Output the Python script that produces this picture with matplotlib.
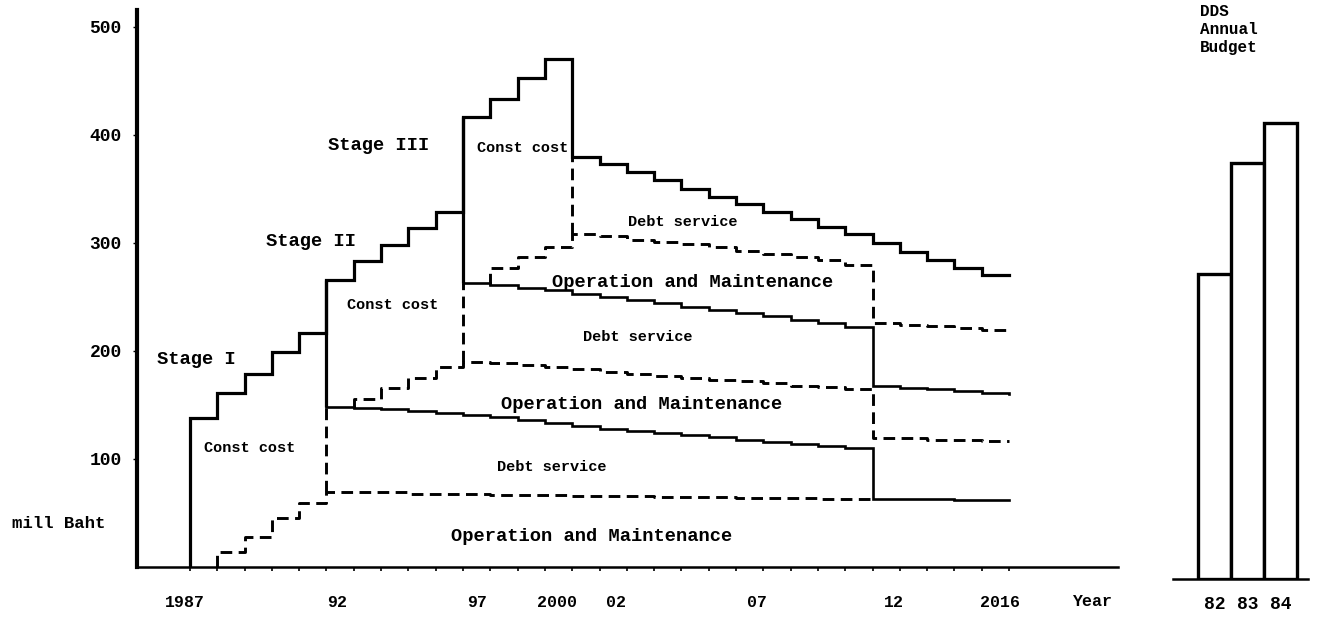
import matplotlib.pyplot as plt

plt.rcParams['font.family'] = ['Liberation Mono', 'DejaVu Sans Mono']
plt.rcParams['font.weight'] = 'bold'

# ---- top outline: construction steps, then stage III debt service ----
stage1_years = [1987, 1988, 1989, 1990, 1991]
stage1_top = [138, 161, 179, 199, 217]
stage2_years = [1992, 1993, 1994, 1995, 1996]
stage2_top = [266, 283, 298, 314, 329]
stage3_years = [1997, 1998, 1999, 2000]
stage3_top = [417, 433, 453, 470]
decline_years = list(range(2001, 2017))
decline_top = [380, 373, 366, 358, 350, 343, 336, 329, 322, 315, 308, 300, 292, 284, 277, 270]
end_year = 2017

# ---- layers below (values at each year, last entry = level at 2012) ----
om1_years = list(range(1988, 2013))
om1 = [14, 28, 45, 59, 69, 69, 69, 68, 68, 68, 67, 67, 67, 66, 66, 66, 65, 65, 65,
       64, 64, 64, 63, 63, 63]
debt1_years = list(range(1992, 2013))
debt1 = [148, 147, 146, 144, 143, 141, 139, 136, 133, 131, 128, 126, 124, 122, 120,
         118, 116, 114, 112, 110, 108]
om2_years = list(range(1993, 2013))
om2 = [156, 166, 175, 185, 190, 189, 187, 185, 183, 181, 179, 177, 175, 173, 172,
       170, 168, 167, 165, 164]
debt2_years = list(range(1997, 2013))
debt2 = [263, 261, 258, 256, 253, 250, 247, 244, 241, 238, 235, 232, 229, 226, 222, 219]
om3_years = list(range(1998, 2013))
om3 = [277, 287, 296, 308, 306, 303, 301, 299, 296, 293, 290, 287, 284, 280, 277]

# after stage I debt is repaid (2012-2017)
after_years = list(range(2012, 2018))
debt1_after = [63, 63, 63, 62, 62, 62]
om2_after = [119, 119, 118, 118, 117, 117]
debt2_after = [168, 166, 165, 163, 161, 160]
om3_after = [226, 224, 223, 221, 219, 218]

# ---- DDS annual budget ----
budget_years = ['82', '83', '84']
budget = [282, 385, 422]

year_labels = ['1987', '92', '97', '2000', '02', '07', '12', '2016']
year_label_pos = [1986.8, 1992.4, 1997.5, 2000.45, 2002.6, 2007.75, 2012.8, 2016.65]

fig = plt.figure(figsize=(13.17, 6.28), dpi=100)
ax = fig.add_axes([137 / 1317, 61 / 628, 981 / 1317, 557 / 628])
ax.set_xlim(1985.06, 2020.99)
ax.set_ylim(0, 515.7)

solid = dict(color='black', lw=2.3, drawstyle='steps-post', solid_joinstyle='miter')
thin = dict(color='black', lw=1.9, drawstyle='steps-post', solid_joinstyle='miter')
dashed = dict(color='black', lw=2.1, drawstyle='steps-post', dashes=(4, 2.2))

# top outline
top_x = [stage1_years[0]] + stage1_years + stage2_years + stage3_years + decline_years + [end_year]
top_y = [0] + stage1_top + stage2_top + stage3_top + decline_top + [decline_top[-1]]
ax.plot(top_x, top_y, **solid)

d1 = dict(zip(debt1_years, debt1))
d2 = dict(zip(debt2_years, debt2))
o1 = dict(zip(om1_years, om1))
o2 = dict(zip(om2_years, om2))
o3 = dict(zip(om3_years, om3))

# O&M stage I
ax.plot([om1_years[0]] + om1_years, [0] + om1, **dashed)
# debt service stage I (continues as the bottom line after 2012)
ax.plot(debt1_years + after_years, debt1 + debt1_after, **thin)
# O&M stage II
ax.plot([om2_years[0]] + om2_years + after_years,
        [d1[om2_years[0]]] + om2 + om2_after, **dashed)
# debt service stage II
ax.plot(debt2_years + after_years, debt2 + debt2_after, **thin)
# O&M stage III
ax.plot([om3_years[0]] + om3_years + after_years,
        [d2[om3_years[0]]] + om3 + om3_after, **dashed)

# stage boundaries
vdash = (0, (4, 2.2))
ax.vlines(1992, o1[1992], d1[1992], colors='black', lw=2.1, linestyles=[vdash])
ax.vlines(1992, d1[1992], stage2_top[0], colors='black', lw=2.3)
ax.vlines(1997, o2[1997], d2[1997], colors='black', lw=2.1, linestyles=[vdash])
ax.vlines(1997, d2[1997], stage3_top[0], colors='black', lw=2.3)
ax.vlines(2001, o3[2001], decline_top[0], colors='black', lw=2.1, linestyles=[vdash])

# labels inside the chart
ax.text(1985.8, 192, 'Stage I', fontsize=13.5, va='center')
ax.text(1989.8, 301, 'Stage II', fontsize=13.5, va='center')
ax.text(1992.05, 390, 'Stage III', fontsize=13.5, va='center')
ax.text(1987.5, 110, 'Const cost', fontsize=11, va='center')
ax.text(1992.75, 243, 'Const cost', fontsize=11, va='center')
ax.text(1997.5, 388, 'Const cost', fontsize=11, va='center')
ax.text(2003.05, 319, 'Debt service', fontsize=11, va='center')
ax.text(2000.25, 263, 'Operation and Maintenance', fontsize=13.5, va='center')
ax.text(2001.4, 213, 'Debt service', fontsize=11, va='center')
ax.text(1998.4, 150, 'Operation and Maintenance', fontsize=13.5, va='center')
ax.text(1998.25, 93, 'Debt service', fontsize=11, va='center')
ax.text(1996.55, 28, 'Operation and Maintenance', fontsize=13.5, va='center')

# axes styling
for s in ['top', 'right']:
    ax.spines[s].set_visible(False)
ax.spines['left'].set_linewidth(3.0)
ax.spines['bottom'].set_linewidth(1.8)
ax.set_yticks([100, 200, 300, 400, 500])
ax.set_yticklabels(['100', '200', '300', '400', '500'], fontsize=13)
ax.tick_params(axis='y', length=3, width=1, pad=8)
ax.set_xticks(year_label_pos)
ax.set_xticklabels(year_labels, fontsize=12)
ax.set_xticks(range(1987, 2018), minor=True)
ax.tick_params(axis='x', which='major', length=0, pad=20)
ax.tick_params(axis='x', which='minor', length=3, width=1.2, direction='out')
ax.text(2020.05, -32, 'Year', fontsize=12, ha='center', va='center', clip_on=False)
fig.text(12 / 1317, 1 - 523 / 628, 'mill Baht', fontsize=12.5, va='center')

# DDS annual budget panel
bx = fig.add_axes([1173 / 1317, 49 / 628, 135 / 1317, 557 / 628])
bx.set_xlim(-1.26, 2.83)
bx.set_ylim(0, 515.7)
bx.bar(range(len(budget)), budget, width=1.0, color='white', edgecolor='black', lw=2.4)
for s in ['top', 'right', 'left']:
    bx.spines[s].set_visible(False)
bx.spines['bottom'].set_linewidth(1.8)
bx.set_yticks([])
bx.set_xticks(range(len(budget)))
bx.set_xticklabels(budget_years, fontsize=13)
bx.tick_params(axis='x', length=0, pad=12)
fig.text(1200 / 1317, 1 - 4 / 628, 'DDS\nAnnual\nBudget', fontsize=11.5, va='top',
         linespacing=1.25)

fig.savefig('out.png', dpi=100)
